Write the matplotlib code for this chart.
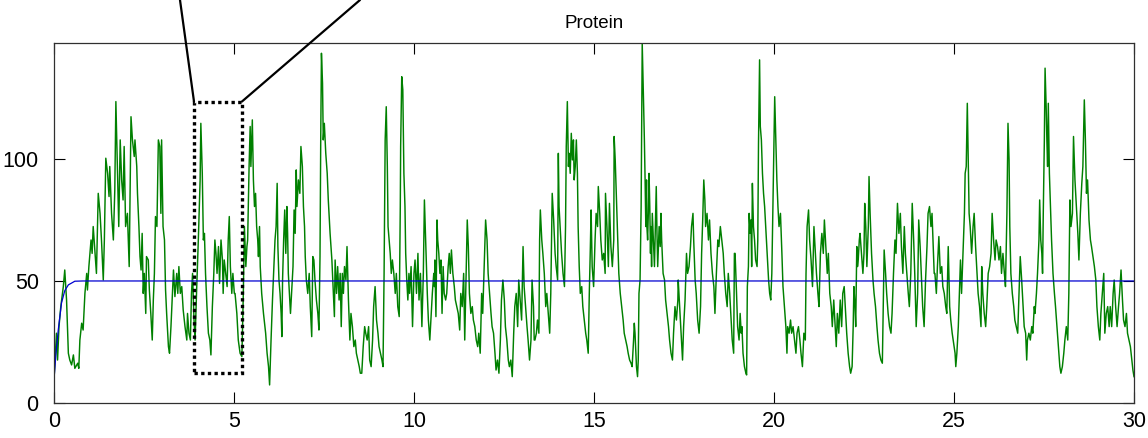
import matplotlib
matplotlib.use('Agg')
import matplotlib.pyplot as plt
from matplotlib.patches import Rectangle
import numpy as np

# protein copy number (time, value)
t_protein = [
    0.00, 0.07, 0.10, 0.14, 0.19, 0.26, 0.30, 0.35, 0.40, 0.44, 0.49, 0.54, 0.58, 0.66, 0.69, 0.72, 0.77, 0.81, 0.86, 0.91,
    0.93, 0.97, 1.03, 1.06, 1.09, 1.14, 1.18, 1.23, 1.28, 1.32, 1.37, 1.40, 1.44, 1.49, 1.53, 1.55, 1.60, 1.65, 1.69, 1.72,
    1.76, 1.80, 1.84, 1.88, 1.92, 1.95, 1.99, 2.04, 2.09, 2.14, 2.18, 2.23,
    2.25, 2.30, 2.32, 2.36, 2.39, 2.42, 2.45, 2.48, 2.51, 2.55, 2.57, 2.62, 2.65, 2.69, 2.73, 2.76, 2.79, 2.82, 2.86, 2.90,
    2.94, 2.97, 2.99, 3.03, 3.07, 3.10, 3.13, 3.18, 3.21, 3.25, 3.29, 3.32, 3.36, 3.41, 3.44, 3.47, 3.51, 3.55, 3.59, 3.64,
    3.69, 3.71, 3.75, 3.79, 3.82, 3.85, 3.89, 3.92, 3.96, 4.01, 4.06, 4.08, 4.12, 4.15, 4.18, 4.21, 4.25, 4.29, 4.33, 4.36,
    4.40, 4.44, 4.47, 4.50, 4.53, 4.57, 4.60, 4.64, 4.68, 4.70, 4.73, 4.77, 4.81, 4.84, 4.87, 4.90, 4.94, 4.97, 5.01,
    5.03, 5.08, 5.12, 5.17, 5.22, 5.26, 5.29, 5.33, 5.36, 5.38, 5.42, 5.45, 5.47, 5.51, 5.54, 5.57, 5.60, 5.63, 5.66, 5.68,
    5.71, 5.73, 5.77, 5.82, 5.85, 5.88, 5.92, 5.96, 5.99, 6.03, 6.07, 6.10, 6.14, 6.17, 6.20, 6.22, 6.25, 6.28, 6.31, 6.33,
    6.35, 6.38, 6.41, 6.44, 6.47, 6.49, 6.51, 6.54, 6.57, 6.60, 6.64, 6.67, 6.70, 6.73, 6.75, 6.79, 6.83, 6.86, 6.90, 6.93,
    6.96, 6.98, 7.01, 7.05, 7.09, 7.12, 7.16, 7.19, 7.22, 7.25, 7.29, 7.33, 7.36, 7.39, 7.41, 7.43, 7.46, 7.48, 7.51, 7.55,
    7.59, 7.62, 7.67, 7.72, 7.76, 7.79,
    7.81, 7.85, 7.88, 7.92, 7.95, 7.98, 8.01, 8.04, 8.07, 8.11, 8.14, 8.18, 8.22, 8.25, 8.29, 8.33, 8.37, 8.40, 8.44, 8.48,
    8.51, 8.55, 8.59, 8.63, 8.66, 8.70, 8.74, 8.77, 8.81, 8.85, 8.88, 8.92, 8.96, 9.00, 9.03, 9.07, 9.11, 9.14, 9.17, 9.20,
    9.23, 9.26, 9.28, 9.31, 9.34, 9.37, 9.40, 9.44, 9.48, 9.51, 9.55, 9.59, 9.62, 9.63, 9.66, 9.69, 9.72, 9.75, 9.77, 9.80,
    9.83, 9.86, 9.88, 9.92, 9.96, 10.00, 10.03, 10.07, 10.11, 10.14, 10.18, 10.22, 10.26, 10.29, 10.33, 10.37, 10.40, 10.44,
    10.48, 10.51, 10.55, 10.57,
    10.58, 10.61, 10.64, 10.66, 10.69, 10.72, 10.75, 10.78, 10.81, 10.84, 10.88, 10.91, 10.95, 10.98, 11.01, 11.04, 11.08,
    11.12, 11.15, 11.19, 11.23, 11.27, 11.30, 11.34, 11.38, 11.41, 11.45, 11.48, 11.51, 11.54, 11.58, 11.62, 11.65, 11.69,
    11.73, 11.77, 11.80, 11.84, 11.88, 11.91, 11.95, 11.99, 12.03, 12.06, 12.10, 12.14, 12.17, 12.21, 12.25, 12.28, 12.32,
    12.36, 12.40, 12.43, 12.47, 12.51, 12.54, 12.58, 12.62, 12.65, 12.69, 12.73, 12.77, 12.80, 12.84, 12.88, 12.91, 12.95,
    12.99, 13.03, 13.06, 13.10, 13.14, 13.17, 13.21, 13.25, 13.28, 13.32, 13.34,
    13.36, 13.40, 13.43, 13.47, 13.49, 13.51, 13.55, 13.58, 13.62, 13.66, 13.69, 13.73, 13.77, 13.80, 13.82, 13.84, 13.88,
    13.92, 13.95, 13.99, 14.01, 14.03, 14.06, 14.10, 14.14, 14.18, 14.21, 14.23, 14.26, 14.29, 14.31, 14.34, 14.37, 14.40,
    14.43, 14.45, 14.48, 14.51, 14.54, 14.56, 14.59, 14.62, 14.66, 14.69, 14.73, 14.77, 14.80, 14.84, 14.87, 14.90, 14.92,
    14.95, 14.99, 15.03, 15.06, 15.10, 15.12, 15.16, 15.19, 15.23, 15.27, 15.31, 15.32, 15.36, 15.40, 15.43, 15.47, 15.51,
    15.55, 15.56, 15.59, 15.62, 15.66, 15.69, 15.73, 15.77, 15.81, 15.84, 15.88, 15.92, 15.95, 15.99, 16.03, 16.06, 16.10,
    16.12,
    16.14, 16.18, 16.21, 16.23, 16.25, 16.28, 16.31, 16.33, 16.34, 16.36, 16.38, 16.40, 16.42, 16.44, 16.46, 16.47, 16.49,
    16.51, 16.53, 16.55, 16.57, 16.58, 16.60, 16.62, 16.65, 16.68, 16.71, 16.73, 16.75, 16.77, 16.81, 16.84, 16.86, 16.88,
    16.92, 16.96, 16.99, 17.03, 17.07, 17.10, 17.14, 17.18, 17.21, 17.25, 17.29, 17.33, 17.34, 17.38, 17.42, 17.46, 17.49,
    17.53, 17.57, 17.60, 17.64, 17.68, 17.71, 17.75, 17.77, 17.81, 17.84, 17.88, 17.92, 17.96, 17.99, 18.02, 18.05, 18.08,
    18.10, 18.14, 18.18, 18.21, 18.25, 18.29, 18.33, 18.36, 18.40, 18.44, 18.47, 18.51, 18.55, 18.59, 18.62, 18.66, 18.70,
    18.73, 18.77, 18.81, 18.84, 18.88, 18.90,
    18.92, 18.96, 18.99, 19.03, 19.06, 19.09, 19.11, 19.14, 19.18, 19.22, 19.24, 19.26, 19.29, 19.31, 19.34, 19.36, 19.38,
    19.40, 19.43, 19.46, 19.49, 19.53, 19.55, 19.57, 19.60, 19.62, 19.65, 19.68, 19.71, 19.74, 19.77, 19.81, 19.85, 19.88,
    19.91, 19.94, 19.97, 19.99, 20.02, 20.05, 20.08, 20.11, 20.14, 20.18, 20.22, 20.25, 20.29, 20.33, 20.36, 20.38, 20.42,
    20.46, 20.49, 20.53, 20.57, 20.61, 20.64, 20.68, 20.72, 20.75, 20.79, 20.83, 20.87, 20.89, 20.92, 20.96, 20.99, 21.03,
    21.07, 21.11, 21.14, 21.18, 21.22, 21.25, 21.29, 21.33, 21.37, 21.40, 21.44, 21.48, 21.51, 21.55, 21.59, 21.62, 21.66,
    21.68,
    21.69, 21.73, 21.76, 21.80, 21.84, 21.88, 21.91, 21.95, 21.99, 22.02, 22.06, 22.10, 22.13, 22.17, 22.20, 22.22, 22.25,
    22.27, 22.30, 22.32, 22.34, 22.37, 22.39, 22.43, 22.47, 22.50, 22.52, 22.55, 22.58, 22.62, 22.64, 22.67, 22.71, 22.75,
    22.78, 22.82, 22.86, 22.89, 22.93, 22.97, 23.01, 23.04, 23.06, 23.10, 23.13, 23.17, 23.21, 23.25, 23.28, 23.32, 23.36,
    23.39, 23.43, 23.47, 23.51, 23.54, 23.58, 23.62, 23.65, 23.69, 23.73, 23.76, 23.80, 23.84, 23.88, 23.91, 23.95, 23.99,
    24.02, 24.06, 24.10, 24.13, 24.17, 24.21, 24.25, 24.28, 24.32, 24.36, 24.39, 24.43, 24.45,
    24.47, 24.51, 24.54, 24.58, 24.62, 24.66, 24.69, 24.73, 24.77, 24.80, 24.84, 24.88, 24.91, 24.95, 24.99, 25.03, 25.05,
    25.08, 25.12, 25.16, 25.18, 25.21, 25.25, 25.29, 25.31, 25.34, 25.37, 25.40, 25.42, 25.45, 25.49, 25.53, 25.56, 25.60,
    25.64, 25.67, 25.71, 25.75, 25.77, 25.80, 25.84, 25.88, 25.91, 25.95, 25.99, 26.03, 26.06, 26.10, 26.14, 26.17, 26.21,
    26.25, 26.29, 26.32, 26.36, 26.40, 26.43, 26.47, 26.50, 26.53, 26.55, 26.58, 26.62, 26.66, 26.69, 26.73, 26.77, 26.80,
    26.84, 26.88, 26.92, 26.95, 26.99, 27.02, 27.04, 27.08, 27.12, 27.16, 27.19, 27.23,
    27.25, 27.29, 27.32, 27.36, 27.38, 27.41, 27.44, 27.46, 27.48, 27.51, 27.53, 27.56, 27.58, 27.60, 27.62, 27.65, 27.68,
    27.71, 27.75, 27.79, 27.82, 27.86, 27.90, 27.94, 27.97, 28.01, 28.05, 28.08, 28.12, 28.16, 28.19, 28.22, 28.25, 28.29,
    28.32, 28.36, 28.40, 28.44, 28.47, 28.51, 28.55, 28.58, 28.62, 28.65, 28.68, 28.71, 28.75, 28.79, 28.82, 28.86, 28.90,
    28.94, 28.97, 29.01, 29.05, 29.08, 29.12, 29.16, 29.19, 29.23, 29.27, 29.31, 29.34, 29.38, 29.42, 29.45, 29.49, 29.53,
    29.57, 29.60, 29.64, 29.68, 29.71, 29.75, 29.79, 29.82, 29.86, 29.90, 29.94, 29.97, 30.00,
]

protein = [
    9.4, 28.6, 17.6, 31.3, 39.5, 47.7, 54.5, 42.2, 20.4, 17.6, 15.6, 19.7, 14.2, 16.3, 14.2, 25.8, 32.7, 29.9, 44.9, 53.1,
    46.3, 55.9, 66.8, 61.3, 72.3, 61.3, 53.1, 85.9, 77.7, 66.8, 50.4, 66.8, 100.3, 94.1, 84.6, 96.9, 77.7, 66.8, 87.3, 123.5,
    96.9, 72.3, 107.8, 91.4, 83.2, 105.1, 72.3, 77.7, 55.9, 117.3, 107.8, 101.0,
    107.8, 96.9, 85.9, 72.3, 60.0, 54.5, 69.5, 44.9, 53.1, 36.7, 60.0, 58.6, 46.3, 36.7, 25.8, 42.2, 53.1, 76.4, 72.3, 107.8,
    105.1, 77.7, 107.8, 72.3, 66.8, 46.3, 36.7, 23.1, 20.4, 31.3, 44.9, 54.5, 43.6, 53.1, 44.9, 55.9, 44.9, 47.7, 38.1, 31.3,
    25.8, 36.7, 28.6, 25.8, 44.9, 53.1, 34.0, 25.8, 44.9, 66.8, 91.4, 114.6, 94.1, 66.8, 69.5, 53.1, 39.5, 28.6, 25.8, 19.7,
    39.5, 53.1, 66.8, 61.3, 53.1, 64.1, 49.0, 66.8, 58.6, 44.9, 58.6, 53.1, 47.7, 66.8, 76.4, 55.9, 44.9, 53.1, 44.9,
    44.9, 36.7, 25.8, 20.4, 19.0, 44.9, 72.3, 55.9, 64.1, 66.8, 96.9, 113.3, 96.9, 116.0, 91.4, 80.5, 85.9, 72.3, 66.8, 60.0,
    72.3, 55.9, 44.9, 36.7, 32.7, 28.6, 20.4, 14.9, 7.4, 25.8, 42.2, 53.1, 66.8, 72.3, 90.0, 64.1, 50.4, 44.9, 36.7, 27.2,
    50.4, 66.8, 79.1, 61.3, 80.5, 69.5, 53.1, 44.9, 36.7, 44.9, 55.9, 79.1, 69.5, 95.5, 80.5, 91.4, 85.9, 105.1, 96.9, 80.5,
    72.3, 60.0, 50.4, 44.9, 53.1, 39.5, 27.2, 60.0, 58.6, 50.4, 42.2, 36.7, 29.9, 60.0, 107.8, 143.3, 131.0, 107.8, 114.6, 102.3,
    94.1, 83.2, 69.5, 58.6, 44.9, 35.4,
    58.6, 44.9, 55.9, 42.2, 53.1, 31.3, 53.1, 44.9, 55.9, 50.4, 64.1, 42.2, 25.8, 36.7, 31.3, 23.1, 25.8, 20.4, 17.6, 14.9,
    12.2, 12.2, 23.1, 31.3, 28.6, 25.8, 31.3, 17.6, 14.9, 25.8, 39.5, 47.7, 34.0, 28.6, 23.1, 20.4, 17.6, 14.9, 53.1, 107.8,
    121.4, 96.9, 72.3, 66.8, 61.3, 53.1, 58.6, 53.1, 44.9, 53.1, 39.5, 35.4, 80.5, 105.1, 133.7, 128.3, 94.1, 80.5, 61.3, 50.4,
    42.2, 53.1, 44.9, 55.9, 31.3, 53.1, 58.6, 44.9, 61.3, 42.2, 53.1, 31.3, 53.1, 83.2, 64.1, 44.9, 34.0, 25.8,
    36.7, 44.9, 53.1, 47.7,
    58.6, 35.4, 75.0, 66.8, 61.3, 53.1, 58.6, 36.7, 55.9, 44.9, 42.2, 44.9, 55.9, 61.3, 53.1, 62.7, 53.1,
    47.7, 42.2, 39.5, 36.7, 29.9, 44.9, 39.5, 53.1, 25.8, 53.1, 75.0, 64.1, 44.9, 36.7, 39.5, 34.0, 31.3,
    25.8, 23.1, 28.6, 20.4, 44.9, 36.7, 55.9, 75.0, 66.8, 53.1, 44.9, 36.7, 31.3, 28.6, 20.4, 13.5, 17.6,
    12.2, 25.8, 42.2, 50.4, 42.2, 31.3, 25.8, 17.6, 14.9, 17.6, 10.8, 28.6, 39.5, 44.9, 31.3, 50.4, 42.2,
    34.0, 64.1, 47.7, 39.5, 31.3, 25.8, 17.6, 25.8, 50.4, 39.5, 25.8,
    25.8, 28.6, 34.0, 28.6, 66.8, 79.1, 66.8, 61.3, 53.1, 39.5, 44.9, 36.7, 28.6, 44.9, 66.8, 85.9, 75.0,
    61.3, 55.9, 50.4, 102.3, 80.5, 72.3, 61.3, 53.1, 47.7, 72.3, 105.1, 123.5, 96.9, 102.3, 94.1, 110.5, 99.6,
    107.8, 91.4, 96.9, 107.8, 94.1, 72.3, 55.9, 44.9, 47.7, 39.5, 34.0, 28.6, 25.8, 20.4, 44.9, 64.1, 79.1,
    55.9, 47.7, 66.8, 77.7, 72.3, 88.7, 77.7, 66.8, 58.6, 61.3, 53.1, 85.9, 72.3, 55.9, 81.8, 64.1, 55.9,
    66.8, 109.2, 99.6, 85.9, 66.8, 53.1, 44.9, 39.5, 34.0, 28.6, 25.8, 23.1, 20.4, 17.6, 16.3, 14.9, 25.8,
    32.7,
    28.6, 14.9, 10.8, 17.6, 44.9, 50.4, 80.5, 129.6, 147.4, 135.1, 121.4, 107.8, 91.4, 72.3, 91.4, 72.3, 66.8,
    77.7, 94.1, 80.5, 61.3, 72.3, 55.9, 77.7, 66.8, 55.9, 75.0, 88.7, 69.5, 55.9, 72.3, 64.1, 77.7, 66.8,
    53.1, 50.4, 42.2, 36.7, 31.3, 25.8, 20.4, 17.6, 28.6, 39.5, 34.0, 42.2, 50.4, 39.5, 28.6, 17.6, 31.3,
    42.2, 61.3, 53.1, 55.9, 64.1, 72.3, 77.7, 66.8, 50.4, 44.9, 34.0, 28.6, 39.5, 61.3, 75.0, 91.4, 83.2,
    72.3, 77.7, 66.8, 75.0, 61.3, 53.1, 47.7, 36.7, 53.1, 66.8, 64.1, 72.3, 66.8, 61.3, 53.1, 44.9, 39.5,
    53.1, 44.9, 34.0, 25.8, 20.4, 61.3,
    61.3, 44.9, 31.3, 25.8, 36.7, 28.6, 31.3, 20.4, 14.9, 12.2, 11.5, 47.7, 55.9, 77.7, 69.5, 75.0, 55.9,
    90.0, 72.3, 66.8, 58.6, 55.9, 66.8, 106.4, 140.6, 113.3, 107.8, 94.1, 85.9, 80.5, 72.3, 61.3, 50.4, 44.9,
    42.2, 53.1, 80.5, 98.2, 125.5, 107.8, 91.4, 80.5, 72.3, 77.7, 61.3, 47.7, 39.5, 31.3, 20.4, 31.3, 28.6,
    34.0, 28.6, 31.3, 25.8, 20.4, 28.6, 31.3, 25.8, 20.4, 14.9, 28.6, 25.8, 53.1, 72.3, 79.1, 66.8, 58.6,
    47.7, 72.3, 64.1, 53.1, 44.9, 39.5, 61.3, 69.5, 61.3, 75.0, 64.1, 53.1, 61.3, 44.9, 39.5, 31.3, 42.2,
    36.7,
    34.0, 23.1, 36.7, 28.6, 42.2, 31.3, 44.9, 47.7, 36.7, 28.6, 20.4, 14.9, 12.2, 14.9, 31.3, 47.7, 39.5,
    31.3, 64.1, 55.9, 58.6, 66.8, 69.5, 61.3, 53.1, 61.3, 81.8, 72.3, 55.9, 72.3, 92.8, 77.7, 61.3, 50.4,
    44.9, 39.5, 31.3, 25.8, 20.4, 17.6, 16.3, 44.9, 62.7, 53.1, 44.9, 36.7, 31.3, 28.6, 36.7, 53.1, 66.8,
    61.3, 81.8, 69.5, 77.7, 64.1, 53.1, 72.3, 61.3, 53.1, 44.9, 39.5, 53.1, 81.8, 66.8, 53.1, 31.3, 44.9,
    75.0, 64.1, 50.4, 39.5, 31.3, 50.4, 64.1, 77.7, 80.5, 72.3, 77.7, 61.3, 53.1,
    53.1, 44.9, 55.9, 68.2, 53.1, 55.9, 47.7, 44.9, 39.5, 36.7, 64.1, 39.5, 34.0, 28.6, 24.5, 20.4, 14.9,
    20.4, 31.3, 50.4, 58.6, 44.9, 61.3, 77.7, 94.1, 96.9, 122.8, 94.1, 77.7, 72.3, 61.3, 72.3, 77.7, 64.1,
    53.1, 44.9, 39.5, 31.3, 55.9, 44.9, 36.7, 31.3, 39.5, 53.1, 55.9, 61.3, 77.7, 66.8, 58.6, 66.8, 64.1,
    58.6, 64.1, 53.1, 61.3, 53.1, 47.7, 77.7, 114.6, 99.6, 72.3, 53.1, 44.9, 39.5, 34.0, 31.3, 28.6, 42.2,
    60.0, 50.4, 39.5, 31.3, 28.6, 17.6, 25.8, 28.6, 25.8, 31.3, 28.6, 39.5,
    36.7, 44.9, 53.1, 66.8, 83.2, 66.8, 61.3, 53.1, 77.7, 107.8, 137.2, 121.4, 107.8, 96.9, 122.8, 94.1, 80.5,
    66.8, 53.1, 44.9, 39.5, 31.3, 23.1, 14.9, 12.2, 14.9, 20.4, 25.8, 31.3, 25.8, 44.9, 83.2, 72.3, 77.7,
    109.2, 91.4, 80.5, 69.5, 58.6, 77.7, 90.0, 96.9, 124.2, 107.8, 85.9, 91.4, 75.0, 66.8, 64.1, 60.0, 55.9,
    50.4, 39.5, 31.3, 25.8, 36.7, 44.9, 53.1, 28.6, 36.7, 39.5, 31.3, 39.5, 31.3, 44.9, 50.4, 39.5, 31.3,
    39.5, 44.9, 54.5, 42.2, 34.0, 31.3, 36.7, 28.6, 25.8, 23.1, 17.6, 13.5, 10.8,
]

# mean protein level
t_mean = [0.0, 0.06, 0.12, 0.21, 0.30, 0.40, 0.58, 0.80, 30.0]
mean_protein = [9.4, 21.0, 30.0, 41.0, 46.0, 48.4, 49.9, 50.0, 50.0]

# zoom window marked on the trace
box_t = (3.89, 5.22)
box_y = (12.2, 123.5)

plt.rcParams['font.family'] = ['Liberation Sans', 'DejaVu Sans']

fig = plt.figure(figsize=(11.48, 4.38), dpi=100)
ax = fig.add_axes([0.0470, 0.0799, 0.9408, 0.8219])

ax.plot(t_protein, protein, color='#008000', lw=1.05)
ax.plot(t_mean, mean_protein, color='#0000d0', lw=0.9)

ax.set_xlim(0, 30)
ax.set_ylim(0, 147.5)
ax.set_xticks(np.arange(0, 31, 5))
ax.set_yticks([0, 50, 100])
ax.tick_params(direction='in', length=8, width=0.8, labelsize=15.5,
    top=True, right=True)
ax.tick_params(axis='y', pad=11)
ax.tick_params(axis='x', pad=6)
for s in ax.spines.values():
    s.set_linewidth(0.9)
    s.set_color('#303030')

ax.set_title('Protein', fontsize=13.5, pad=11)

ax.add_patch(Rectangle((box_t[0], box_y[0]), box_t[1] - box_t[0],
    box_y[1] - box_y[0], fill=False, ec='k', lw=2.4, ls=(0, (1, 1)),
    clip_on=False, zorder=5))

ax.annotate('', xy=(box_t[0], box_y[1]), xytext=(180, 438),
    textcoords='figure pixels', annotation_clip=False,
    arrowprops=dict(arrowstyle='-', lw=1.6, color='k', shrinkA=0, shrinkB=0))
ax.annotate('', xy=(box_t[1], box_y[1]), xytext=(360, 438),
    textcoords='figure pixels', annotation_clip=False,
    arrowprops=dict(arrowstyle='-', lw=1.6, color='k', shrinkA=0, shrinkB=0))

fig.savefig('out.png', dpi=100)
